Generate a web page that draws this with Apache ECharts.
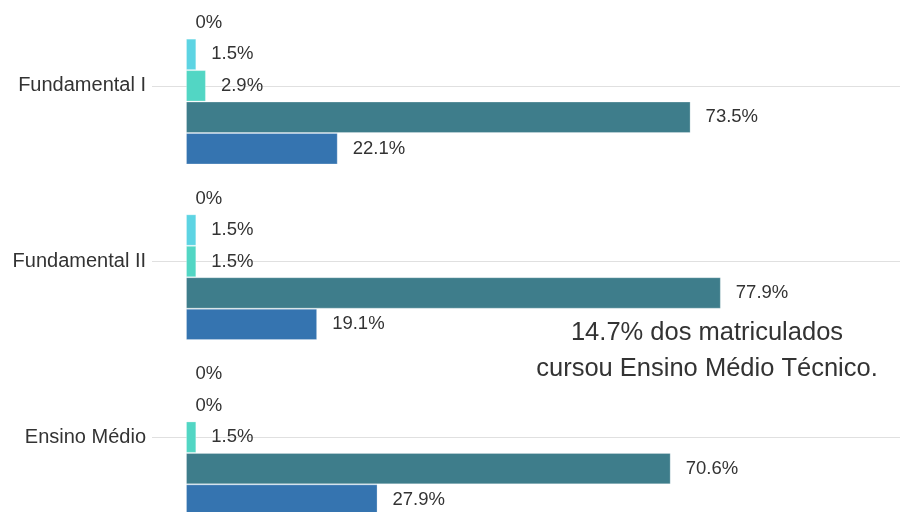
<!DOCTYPE html>
<html>
<head>
<meta charset="utf-8">
<script src="https://cdn.jsdelivr.net/npm/echarts@6/dist/echarts.min.js"></script>
<style>html,body{margin:0;padding:0;background:#fff}#c{width:900px;height:512px}</style>
</head>
<body>
<div id="c"></div>
<script>
const categories = ['Fundamental I', 'Fundamental II', 'Ensino Médio'];
const serie1 = [0, 0, 0];
const serie2 = [1.5, 1.5, 0];
const serie3 = [2.9, 1.5, 1.5];
const serie4 = [73.5, 77.9, 70.6];
const serie5 = [22.1, 19.1, 27.9];
const noteLines = ['14.7% dos matriculados', 'cursou Ensino Médio Técnico.'];

const colors = ['#9fe3ea', '#5dd4e3', '#52d6c4', '#3e7d8b', '#3574b0'];
const allSeries = [serie1, serie2, serie3, serie4, serie5];
const FONT = 'Liberation Sans, Arial, sans-serif';

const chart = echarts.init(document.getElementById('c'), null, {renderer: 'canvas'});

const series = allSeries.map((vals, i) => ({
  type: 'bar',
  name: 's' + i,
  data: vals.map(v => ({
    value: v,
    label: {distance: v === 0 ? 9 : 15}
  })),
  itemStyle: {color: colors[i], borderColor: 'rgba(255,255,255,0.25)', borderWidth: 1},
  barGap: '0%',
  barCategoryGap: '10.5%',
  label: {
    show: true,
    position: 'right',
    formatter: p => p.value + '%',
    color: '#333',
    fontSize: 18.5,
    fontFamily: FONT
  },
  z: 3
}));

series.unshift({
  type: 'line',
  name: 'grid',
  data: [],
  silent: true,
  z: 1,
  markLine: {
    silent: true,
    z: 1,
    symbol: 'none',
    label: {show: false},
    lineStyle: {color: '#e0e0e0', width: 1, type: 'solid'},
    data: categories.map(c => ({yAxis: c}))
  }
});

chart.setOption({
  backgroundColor: '#fff',
  animation: false,
  grid: {left: 186, right: 0, top: -2, height: 527, containLabel: false, outerBoundsMode: 'none'},
  xAxis: {
    type: 'value', min: 0, max: 104,
    show: false,
    splitLine: {show: false}
  },
  yAxis: {
    type: 'category',
    data: categories,
    inverse: true,
    axisLine: {show: false},
    axisTick: {show: true, alignWithLabel: true, length: 34, lineStyle: {color: '#e0e0e0'}},
    axisLabel: {margin: 40, color: '#333', fontSize: 20, fontFamily: FONT},
    splitLine: {show: false}
  },
  graphic: [{
    type: 'text',
    left: 707 - 180, top: 315,
    style: {
      text: noteLines.join('\n'),
      textAlign: 'center',
      width: 360,
      fill: '#333',
      font: '25.5px ' + FONT,
      lineHeight: 36
    }
  }],
  series: series
});
</script>
</body>
</html>
